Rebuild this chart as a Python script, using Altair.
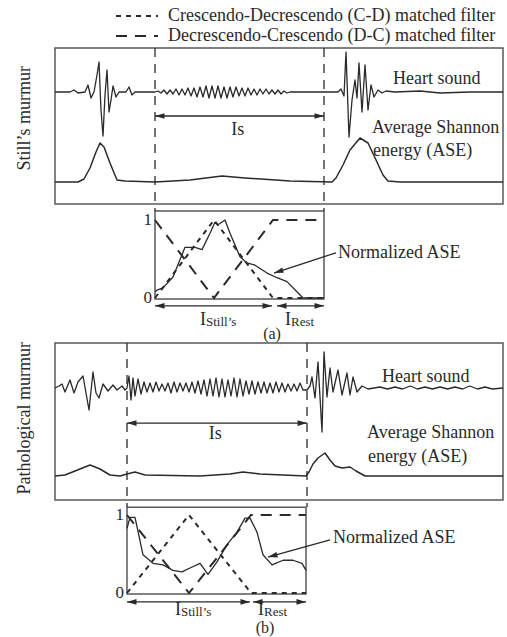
import altair as alt
import pandas as pd

# ---------------- data (time in ms, amplitudes in arbitrary units) ----------------
CD = "Crescendo-Decrescendo (C-D) matched filter"
DC = "Decrescendo-Crescendo (D-C) matched filter"

# (a) Still's murmur
HEART_A = [(0, 0), (30, 0), (38, 2), (46, -1), (60, 0), (66, 7), (72, -6), (78, 0), (84, 17), (88, 30),
           (92, -18), (96, -44), (100, -3), (104, 22), (108, -20), (112, -8), (116, 6), (122, -5), (128, 0),
           (142, 0), (148, 5), (154, -3), (160, 0), (200, 0),
           (206, 1), (212, -1), (218, 2), (224, -2), (230, 2), (236, -2), (242, 3), (248, -3), (254, 3),
           (260, -3), (266, 4), (272, -4), (278, 4), (284, -5), (290, 5), (296, -5), (302, 6), (308, -6),
           (314, 6), (320, -6), (326, 6), (332, -6), (338, 5), (344, -6), (350, 5), (356, -5), (362, 5),
           (368, -4), (374, 4), (380, -4), (386, 4), (392, -3), (398, 3), (404, -3), (410, 3), (416, -2),
           (422, 3), (428, -2), (434, 2), (440, -2), (446, 2), (452, -2), (458, 1), (464, -1), (470, 0),
           (550, 0), (566, 0), (572, 3), (578, -4), (582, 40), (588, -45), (594, -8), (600, 12), (604, -6),
           (608, 29), (614, -20), (620, 27), (626, -18), (632, 7), (638, -5), (646, 2), (654, -1), (662, 1),
           (680, 0), (730, 1), (770, -1), (830, 0), (896, 0)]
ASE_A = [(0, 0), (46, 0), (58, 3), (70, 14), (82, 30), (90, 39), (98, 35), (110, 19), (124, 2), (140, 1),
         (200, 0), (270, 2), (334, 6), (380, 4), (470, 1), (554, 0), (562, 4), (576, 17), (590, 32),
         (610, 44), (626, 39), (642, 22), (656, 7), (666, 1), (690, 0), (896, 0)]
NASE_A = [(200, 0.08), (204, 0.10), (216, 0.13), (236, 0.27), (260, 0.65), (280, 0.65), (294, 0.62),
          (310, 0.83), (320, 0.97), (326, 0.94), (340, 1.0), (350, 0.83), (370, 0.53), (384, 0.45),
          (400, 0.42), (424, 0.32), (444, 0.26), (464, 0.21), (496, 0.0), (538, 0.0)]
CD_A = [(200, 0), (318, 1), (436, 0), (538, 0)]
DC_A = [(200, 1), (318, 0), (436, 1), (538, 1)]
IS_A = (200, 538)
ISTILL_A = (200, 434)
IREST_A = (444, 538)

# (b) Pathological murmur
HEART_B = [(0, 0), (8, 2), (14, 4), (20, -4), (30, 8), (38, -5), (46, 6), (56, 12), (62, -5), (68, -22),
           (76, 16), (82, -5), (88, -10), (96, 4), (106, -3), (116, 3), (124, -2), (134, 2), (140, -2),
           (144, 0), (148, 12), (152, -12), (156, 10), (160, -8), (166, 9), (172, -6), (178, 6), (184, -4),
           (190, 5), (196, -4), (202, 6), (208, -3), (214, 4), (220, -3), (226, 5), (232, -5), (238, 6),
           (244, -4), (250, 5), (256, -3), (262, 5), (268, -4), (274, 6), (280, -5), (286, 7), (292, -6),
           (298, 8), (304, -8), (310, 9), (316, -8), (322, 10), (328, -9), (334, 9), (340, -9), (346, 8),
           (352, -8), (358, 10), (364, -9), (370, 9), (376, -8), (382, 7), (388, -6), (394, 7), (400, -6),
           (406, 6), (412, -5), (418, 6), (424, -5), (430, 5), (436, -5), (442, 6), (448, -4), (454, 5),
           (460, -4), (466, 4), (472, -3), (478, 4), (484, -3), (490, 5), (496, -2), (504, -2),
           (510, 2), (514, 11), (520, -10), (526, 26), (534, -44), (538, 36), (544, -9), (550, 20),
           (556, -4), (566, 18), (574, -7), (584, 15), (590, -7), (596, 11), (604, -4), (614, 2), (626, -1),
           (650, 1), (665, -1), (680, 1), (695, -1), (710, 2), (725, -1), (740, 1), (755, -1), (770, 1),
           (785, -1), (800, 1), (815, -1), (830, 2), (845, -1), (860, 1), (875, -1), (896, 0)]
ASE_B = [(0, 0), (20, 1), (40, 5), (70, 11), (90, 7), (110, 1), (130, 0), (144, 2), (160, 4), (180, 1),
         (290, 0), (350, 2), (376, 4), (410, 2), (502, 0), (508, 4), (516, 12), (526, 18), (540, 23),
         (550, 16), (560, 10), (574, 8), (590, 9), (602, 5), (620, 0), (896, 0)]
NASE_B = [(144, 0.83), (150, 0.97), (160, 0.97), (176, 0.49), (196, 0.38), (216, 0.36), (236, 0.29),
          (254, 0.27), (270, 0.32), (290, 0.38), (306, 0.24), (324, 0.40), (344, 0.62), (364, 0.78),
          (380, 0.96), (390, 0.96), (404, 0.78), (416, 0.49), (434, 0.36), (456, 0.42), (476, 0.42),
          (494, 0.38), (502, 0.29)]
CD_B = [(144, 0), (268, 1), (392, 0), (502, 0)]
DC_B = [(144, 1), (268, 0), (392, 1), (502, 1)]
IS_B = (144, 504)
ISTILL_B = (144, 390)
IREST_B = (396, 502)

# ---------------- layout & style ----------------
LAYOUT = {
    "a": {"F": [204, 48], "H": [137, 47], "A": [182, 138], "N": [298, 220]},
    "b": {"F": [500, 343], "H": [433, 343], "A": [476, 453], "N": [593, 515]},
}
DOM = {"F": [0, 1], "H": [-45, 45], "N": [0, 1]}
ASE_DOM = {"a": [0, 44], "b": [0, 23]}
INK = "#2a2a2a"
FRAME = "#585858"
FONT = "Liberation Serif"
ARROW = "M0,0L-2,-0.6L-2,0.6Z"
X = alt.Scale(domain=[0, 896], range=[55, 503], nice=False, zero=False)
DASH = alt.Scale(domain=[CD, DC], range=[[5, 5], [11, 8]])
LEGEND = alt.Legend(title=None, orient="none", legendX=128, legendY=7, symbolType="M-4,0L4,0",
                    symbolSize=110, symbolStrokeWidth=2, symbolStrokeColor=INK,
                    labelFont=FONT, labelFontSize=18, labelColor=INK, labelOffset=22,
                    labelLimit=420, rowPadding=2, padding=0)


def ysc(p, key):
    dom = ASE_DOM[p] if key == "A" else DOM[key]
    return alt.Scale(domain=dom, range=LAYOUT[p][key], nice=False, zero=False)


def xy(ys):
    return dict(x=alt.X("t:Q", scale=X, axis=None), y=alt.Y("v:Q", scale=ys, axis=None))


def trace(pairs, ys, width=1.3):
    df = pd.DataFrame(pairs, columns=["t", "v"])
    df["i"] = range(len(df))
    return alt.Chart(df).mark_line(color=INK, strokeWidth=width, strokeJoin="round").encode(
        order="i:Q", **xy(ys))


def rect(t1, t2, v1, v2, ys):
    df = pd.DataFrame([{"t": t1, "t2": t2, "v": v1, "v2": v2}])
    return alt.Chart(df).mark_rect(fillOpacity=0, stroke=FRAME, strokeWidth=1.5).encode(
        x2="t2:Q", y2="v2:Q", **xy(ys))


def vlines(ts, v1, v2, ys):
    df = pd.DataFrame({"t": list(ts), "v": [v1] * len(ts), "v2": [v2] * len(ts)})
    return alt.Chart(df).mark_rule(color=INK, strokeWidth=1.3, strokeDash=[9, 7]).encode(
        y2="v2:Q", **xy(ys))


def harrows(spans, v, ys):
    df = pd.DataFrame([{"t": a, "t2": b, "v": v} for a, b in spans])
    line = alt.Chart(df).mark_rule(color=INK, strokeWidth=1.3).encode(x2="t2:Q", **xy(ys))
    heads = []
    for a, b in spans:
        heads += [{"t": a, "v": v, "ang": 180}, {"t": b, "v": v, "ang": 0}]
    hd = alt.Chart(pd.DataFrame(heads)).mark_point(shape=ARROW, filled=True, size=90, color=INK,
                                                    opacity=1).encode(
        angle=alt.Angle("ang:Q", scale=None), **xy(ys))
    return [line, hd]


def pointer(t1, v1, t2, v2, ang, ys):
    df = pd.DataFrame([{"t": t1, "v": v1, "t2": t2, "v2": v2}])
    line = alt.Chart(df).mark_rule(color=INK, strokeWidth=1.3).encode(x2="t2:Q", y2="v2:Q", **xy(ys))
    hd = alt.Chart(pd.DataFrame([{"t": t2, "v": v2, "ang": ang}])).mark_point(
        shape=ARROW, filled=True, size=90, color=INK, opacity=1).encode(
        angle=alt.Angle("ang:Q", scale=None), **xy(ys))
    return [line, hd]


def texts(rows, ys, **kw):
    df = pd.DataFrame(rows, columns=["t", "v", "txt"])
    style = dict(font=FONT, fontSize=18, color=INK, baseline="middle", align="left")
    style.update(kw)
    return alt.Chart(df).mark_text(**style).encode(text="txt:N", **xy(ys))


def filters(cd, dc, ys):
    rows = [(t, v, CD, i) for i, (t, v) in enumerate(cd)] + [(t, v, DC, i) for i, (t, v) in enumerate(dc)]
    df = pd.DataFrame(rows, columns=["t", "v", "f", "i"])
    return alt.Chart(df).mark_line(color=INK, strokeWidth=2).encode(
        strokeDash=alt.StrokeDash("f:N", scale=DASH, legend=LEGEND), order="i:Q", **xy(ys))


def panel(p, heart, ase, nase, cd, dc, is_span, istill, irest, T):
    F, H, A, N = ysc(p, "F"), ysc(p, "H"), ysc(p, "A"), ysc(p, "N")
    lay = [rect(0, 896, 0, 1, F),
           rect(is_span[0], T["inset_r"], -0.013, T["inset_top"], N),
           vlines(is_span, 1, -0.045, F),
           trace(heart, H, 1.3),
           trace(ase, A, 1.5),
           filters(cd, dc, N),
           trace(nase, N, 1.3)]
    lay += harrows([is_span], T["is_v"], F)
    lay += harrows([istill, irest], T["sub_v"], N)
    lay += pointer(*T["ptr"], N)
    lay.append(texts(T["ftxt"], F))
    lay.append(texts([(is_span[0] + (is_span[1] - is_span[0]) * 0.49, T["is_lab"], "Is")], F, align="center"))
    lay.append(texts([(-60, T["ylab_v"], T["ylab"])], F, align="center", angle=270))
    lay.append(texts(T["ntxt"], N))
    lay.append(texts([(is_span[0], 1, "1"), (is_span[0], 0, "0")], N, align="right", dx=-3, fontSize=17))
    lay.append(texts(T["sub"], N, fontSize=13))
    lay.append(texts([T["tag"]], N, align="center", fontSize=16))
    return lay


TA = {"inset_r": 538, "inset_top": 1.115, "is_v": 0.564, "is_lab": 0.474, "sub_v": -0.10,
      "ylab": "Still\u2019s murmur", "ylab_v": 0.55,
      "ptr": (562, 0.58, 438, 0.32, 162),
      "ftxt": [(676, 0.80, "Heart sound"), (634, 0.487, "Average Shannon"), (636, 0.34, "energy (ASE)")],
      "ntxt": [(566, 0.58, "Normalized  ASE"), (290, -0.28, "I"), (460, -0.28, "I")],
      "sub": [(302, -0.31, "Still\u2019s"), (472, -0.31, "Rest")],
      "tag": (434, -0.46, "(a)")}
TB = {"inset_r": 502, "inset_top": 1.10, "is_v": 0.49, "is_lab": 0.42, "sub_v": -0.115,
      "ylab": "Pathological murmur", "ylab_v": 0.52,
      "ptr": (550, 0.68, 426, 0.46, 165),
      "ftxt": [(654, 0.783, "Heart sound"), (624, 0.427, "Average Shannon"), (626, 0.274, "energy (ASE)")],
      "ntxt": [(556, 0.71, "Normalized  ASE"), (240, -0.22, "I"), (406, -0.22, "I")],
      "sub": [(252, -0.245, "Still\u2019s"), (418, -0.245, "Rest")],
      "tag": (420, -0.45, "(b)")}

layers = panel("a", HEART_A, ASE_A, NASE_A, CD_A, DC_A, IS_A, ISTILL_A, IREST_A, TA) + \
         panel("b", HEART_B, ASE_B, NASE_B, CD_B, DC_B, IS_B, ISTILL_B, IREST_B, TB)

chart = alt.layer(*layers).resolve_scale(y="independent").properties(
    width=507, height=637, autosize=alt.AutoSizeParams(type="none"), padding=0, background="white"
).configure_view(stroke=None)

chart.save("out.html", embed_options={"renderer": "svg", "actions": False})
